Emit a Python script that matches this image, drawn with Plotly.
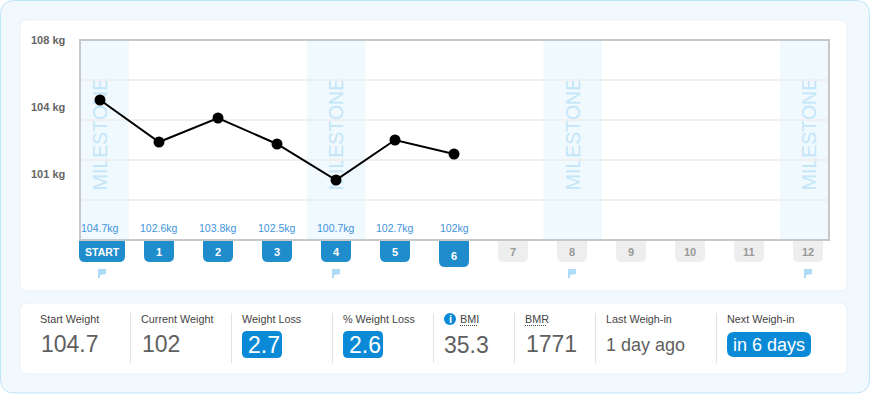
import plotly.graph_objects as go

# ---- data ----
weeks = [0, 1, 2, 3, 4, 5, 6]
weights = [104.7, 102.6, 103.8, 102.5, 100.7, 102.7, 102]
badge_weeks = list(range(13))
badge_labels = ["START", "1", "2", "3", "4", "5", "6", "7", "8", "9", "10", "11", "12"]
milestone_weeks = [0, 4, 8, 12]
grid_values = [105.7, 103.7, 101.7, 99.7]
y_tick_values = [107.7, 104.35, 101.0]
y_tick_labels = ["108 kg", "104 kg", "101 kg"]
stat_names = ["Start Weight", "Current Weight", "Weight Loss", "% Weight Loss", "BMI", "BMR", "Last Weigh-in", "Next Weigh-in"]
stat_values = ["104.7", "102", "2.7", "2.6", "35.3", "1771", "1 day ago", "in 6 days"]

# ---- layout constants ----
W, H = 871, 394
L, R, T, B = 81, 828, 41, 239
X_MIN, X_MAX = (81 - 100) / 59, (828 - 100) / 59
Y_MIN, Y_MAX = 97.75, 107.65
FONT = "Liberation Sans"
BLUE = "#1f8ccb"
BRIGHT = "#0a8ad6"
DARK = "#5f5f5f"


def px(x):
    return (x - L) / (R - L)


def py(y):
    return (B - y) / (B - T)


def x_pixel(v):
    return L + (v - X_MIN) / (X_MAX - X_MIN) * (R - L)


def rounded(x0, y0, x1, y1, r, top=True, bottom=True):
    rt = r if top else 0
    rb = r if bottom else 0
    pts = [f"M{px(x0 + rt)},{py(y0)}", f"L{px(x1 - rt)},{py(y0)}"]
    if rt:
        pts.append(f"Q{px(x1)},{py(y0)} {px(x1)},{py(y0 + rt)}")
    pts.append(f"L{px(x1)},{py(y1 - rb)}")
    if rb:
        pts.append(f"Q{px(x1)},{py(y1)} {px(x1 - rb)},{py(y1)}")
    pts.append(f"L{px(x0 + rb)},{py(y1)}")
    if rb:
        pts.append(f"Q{px(x0)},{py(y1)} {px(x0)},{py(y1 - rb)}")
    pts.append(f"L{px(x0)},{py(y0 + rt)}")
    if rt:
        pts.append(f"Q{px(x0)},{py(y0)} {px(x0 + rt)},{py(y0)}")
    pts.append("Z")
    return " ".join(pts)


def box(x0, y0, x1, y1, r, fill, line=None, width=1, layer="below", top=True, bottom=True):
    return dict(type="path", xref="paper", yref="paper", layer=layer,
                path=rounded(x0, y0, x1, y1, r, top, bottom), fillcolor=fill,
                line=dict(color=line or fill, width=width if line else 0))


def text(x, y, s, size, color, anchor="left", bold=False, angle=0, xref="paper"):
    return dict(x=px(x) if xref == "paper" else x, y=py(y), xref=xref, yref="paper",
                text=f"<b>{s}</b>" if bold else s, showarrow=False, textangle=angle,
                xanchor=anchor, yanchor="middle", align=anchor,
                font=dict(family=FONT, size=size, color=color), borderpad=0, borderwidth=0)


shapes, ann = [], []

# page panels
shapes.append(box(0.5, 0.5, 869.5, 393, 14, "#f1f8fe", "#bfe5f9", 1))
shapes.append(box(20, 20, 847, 291, 7, "#ffffff", "#e9f1f6", 1))
shapes.append(box(20, 303, 847, 374, 7, "#ffffff", "#e9f1f6", 1))

# milestone bands (text carried by a shape label so it stays beneath the line)
for m in milestone_weeks:
    shift = m * 0.002
    shapes.append(dict(type="rect", xref="x", yref="paper", layer="below",
                       x0=max(m - 0.5 + shift, X_MIN), x1=min(m + 0.49 + shift, X_MAX), y0=0, y1=1,
                       fillcolor="#f0f9fe", line_width=0))
    shapes.append(dict(type="rect", xref="x", yref="paper", layer="below",
                       x0=m - 0.25 + shift, x1=m + 0.19 + shift, y0=py(190), y1=py(78),
                       fillcolor="rgba(0,0,0,0)", line_width=0,
                       label=dict(text="MILESTONE", textangle=-90, textposition="middle center",
                                  font=dict(family=FONT, size=19.5, color="#c4e6f9"))))

# y labels
for v, lab in zip(y_tick_values, y_tick_labels):
    a = text(65, 0, lab, 11, "#666666", "right", bold=True)
    a["y"] = (v - Y_MIN) / (Y_MAX - Y_MIN)
    ann.append(a)

# value labels
for w, v in zip(weeks, weights):
    ann.append(text(w + 0.0, 228, f"{v:g}kg", 10.5, "#3f93da", "center", xref="x"))

# week badges
current = weeks[-1]
for w, lab in zip(badge_weeks, badge_labels):
    cx = x_pixel(w)
    if w == 0:
        x0, x1 = 79, 125
    else:
        x0, x1 = cx - 15, cx + 15
    bottom = 267 if w == current else 262
    fill = BLUE if w <= current else "#eeeeee"
    col = "#ffffff" if w <= current else "#999999"
    shapes.append(box(x0, 241, x1, bottom, 6, fill, top=False))
    cy = 256 if w == current else 252
    ann.append(text((x0 + x1) / 2, cy, lab, 11 if w else 10.5, col, "center", bold=True))
    if w in milestone_weeks:
        fx = (x0 + x1) / 2 - 4
        shapes.append(dict(type="path", xref="paper", yref="paper", layer="below",
                           path=f"M{px(fx)},{py(269)} L{px(fx + 8)},{py(269)} L{px(fx + 8)},{py(274)} "
                                f"L{px(fx + 2)},{py(275)} L{px(fx + 2)},{py(278)} L{px(fx)},{py(278)} Z",
                           fillcolor="#aedbf7", line_width=0))

# stats strip
for sx in [130, 231, 332, 433, 514, 595, 716]:
    shapes.append(dict(type="line", xref="paper", yref="paper", layer="below",
                       x0=px(sx + 0.5), x1=px(sx + 0.5), y0=py(313), y1=py(363),
                       line=dict(color="#e2e2e2", width=1)))
name_x = [40, 141, 242, 343, 460, 525, 606, 727]
for sx, name in zip(name_x, stat_names):
    ann.append(text(sx, 319, name, 10.8, "#444444"))
for x0, x1, y0, y1, r in [(242, 282, 331, 358, 5), (343, 383, 331, 358, 5), (727, 811, 332, 357, 7)]:
    shapes.append(box(x0, y0, x1, y1, r, BRIGHT))
val_pos = [(41, 344, 23, DARK), (142, 344, 23, DARK), (248, 344.5, 23, "#ffffff"), (349, 344.5, 23, "#ffffff"),
           (444, 345, 23, DARK), (526, 344, 23, DARK), (606, 345, 18, DARK), (733, 345, 18, "#ffffff")]
for (sx, sy, sz, col), val in zip(val_pos, stat_values):
    ann.append(text(sx, sy, val, sz, col))
# dotted underlines + info icon
for x0, x1 in [(460, 477), (525, 547)]:
    shapes.append(dict(type="line", xref="paper", yref="paper", layer="below",
                       x0=px(x0), x1=px(x1), y0=py(325.5), y1=py(325.5),
                       line=dict(color="#444444", width=1, dash="1px,1px")))
shapes.append(dict(type="circle", xref="paper", yref="paper", layer="below",
                   x0=px(444), x1=px(456), y0=py(325), y1=py(313), fillcolor=BRIGHT, line_width=0))
ann.append(text(450, 319, "i", 11, "#ffffff", "center", bold=True))

fig = go.Figure(go.Scatter(x=weeks, y=weights, mode="lines+markers",
                           line=dict(color="#000000", width=2),
                           marker=dict(color="#000000", size=11),
                           hoverinfo="skip", showlegend=False))
fig.update_layout(
    width=W, height=H,
    margin=dict(l=L, r=W - R, t=T, b=H - B, pad=0, autoexpand=False),
    paper_bgcolor="#ffffff", plot_bgcolor="rgba(0,0,0,0)",
    showlegend=False, shapes=shapes, annotations=ann,
    xaxis=dict(range=[X_MIN, X_MAX], showgrid=False, zeroline=False, showticklabels=False, ticks="",
               showline=True, mirror=True, linecolor="#c8c8c8", linewidth=2, fixedrange=True),
    yaxis=dict(range=[Y_MIN, Y_MAX], tickmode="array", tickvals=grid_values, showticklabels=False, ticks="",
               showgrid=True, gridcolor="#efefef", gridwidth=2, zeroline=False,
               showline=True, mirror=True, linecolor="#c8c8c8", linewidth=2, fixedrange=True),
)
fig.write_html("out.html", config=dict(displayModeBar=False, responsive=False),
               post_script="document.body.style.margin='0';document.body.style.overflow='hidden';")
